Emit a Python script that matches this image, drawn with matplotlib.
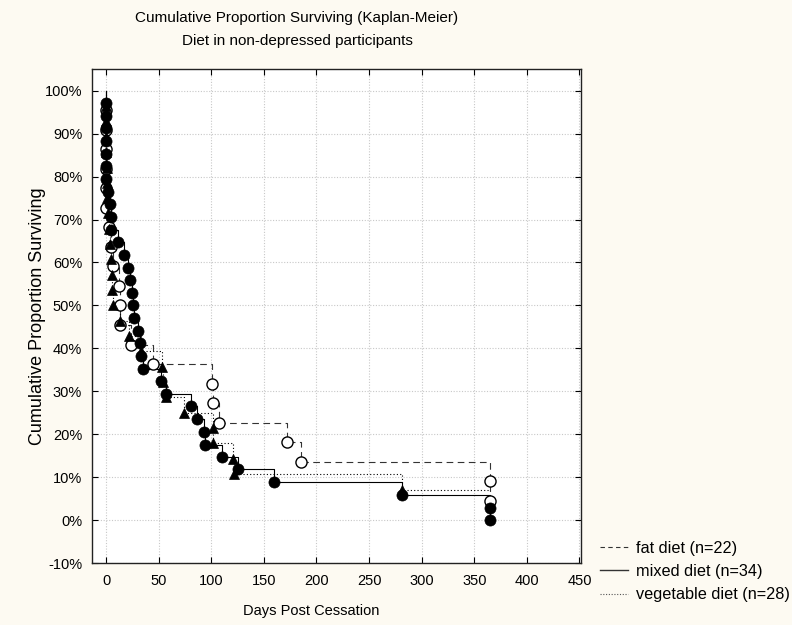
import matplotlib
matplotlib.use("Agg")
import matplotlib.pyplot as plt
from matplotlib.lines import Line2D
from matplotlib.ticker import FuncFormatter

plt.rcParams['font.family'] = ['Liberation Sans', 'DejaVu Sans']

# Kaplan-Meier steps (days, % surviving at each event)
fat_days = [0, 0, 0, 0, 0, 0, 3, 5, 6.5, 12, 13, 13, 24, 45, 100.5, 102, 107,
            172, 185, 365, 365]
fat_surv = [95.5, 90.9, 86.4, 81.8, 77.3, 72.7, 68.2, 63.6, 59.1, 54.5, 50.0,
            45.5, 40.9, 36.4, 31.8, 27.3, 22.7, 18.2, 13.6, 9.1, 4.5]
fat_end = 365

mixed_days = [0, 0, 0, 0, 0, 0, 0, 2, 4, 4.5, 5, 11, 17, 21, 22.5, 24.5, 26,
              27, 30, 32, 33, 35, 52, 57, 81, 86.5, 93.5, 94, 110.5, 125, 160,
              281, 365, 365]
mixed_surv = [97.1, 94.1, 91.2, 88.2, 85.3, 82.4, 79.4, 76.5, 73.5, 70.6, 67.6,
              64.7, 61.8, 58.8, 55.9, 52.9, 50.0, 47.1, 44.1, 41.2, 38.2, 35.3,
              32.4, 29.4, 26.5, 23.5, 20.6, 17.6, 14.7, 11.8, 8.8, 5.9, 2.9, 0.0]
mixed_end = 365

veg_days = [0, 0, 0, 0, 1, 1, 1, 2, 3, 3.5, 5, 5.5, 5.5, 6.5, 13, 22, 33, 53,
            54, 57, 74, 101.5, 102, 120.5, 122, 281]
veg_surv = [96.4, 92.9, 89.3, 85.7, 82.1, 78.6, 75.0, 71.4, 67.9, 64.3, 60.7,
            57.1, 53.6, 50.0, 46.4, 42.9, 39.3, 35.7, 32.1, 28.6, 25.0, 21.4,
            17.9, 14.3, 10.7, 7.1]
veg_end = 365

labels = ['fat diet (n=22)', 'mixed diet (n=34)', 'vegetable diet (n=28)']
x_ticks = list(range(0, 451, 50))
y_ticks = list(range(-10, 101, 10))

bg = '#fdfaf2'
fig = plt.figure(figsize=(7.92, 6.25), dpi=100, facecolor=bg)
ax = fig.add_axes([0.116, 0.099, 0.617, 0.791])
ax.set_facecolor('white')


def km_line(days, surv, end):
    xs = [0] + list(days) + [end]
    ys = [100] + list(surv) + [surv[-1]]
    return xs, ys


styles = [
    (fat_days, fat_surv, fat_end, dict(color='#333333', ls=(0, (6, 4))),
     dict(marker='o', mfc='white', mec='black', ms=8, mew=1.0)),
    (veg_days, veg_surv, veg_end, dict(color='black', ls=(0, (1, 2))),
     dict(marker='^', mfc='black', mec='black', ms=7, mew=0.5)),
    (mixed_days, mixed_surv, mixed_end, dict(color='black', ls='-'),
     dict(marker='o', mfc='black', mec='black', ms=8, mew=0.5)),
]

for days, surv, end, lstyle, mstyle in styles:
    xs, ys = km_line(days, surv, end)
    ax.step(xs, ys, where='post', lw=0.8, zorder=2, **lstyle)
for days, surv, end, lstyle, mstyle in styles:
    ax.plot(days, surv, ls='none', zorder=3, **mstyle)

ax.set_xlim(-13.5, 451)
ax.set_ylim(-10, 105.1)
ax.set_xticks(x_ticks)
ax.set_yticks(y_ticks)
ax.yaxis.set_major_formatter(FuncFormatter(lambda v, p: f"{int(round(v))}%"))
ax.tick_params(direction='in', top=True, right=True, length=4, width=0.8,
               labelsize=10.5, colors='black')
ax.tick_params(axis='x', pad=8)
ax.tick_params(axis='y', pad=7)
ax.grid(True, color='#c8c8c8', ls=(0, (1, 1.5)), lw=0.8, zorder=0)
ax.set_axisbelow(True)
for s in ax.spines.values():
    s.set_linewidth(1.0)
    s.set_color('#222222')

ax.set_ylabel('Cumulative Proportion Surviving', fontsize=13)
ax.yaxis.set_label_coords(-0.093, 0.5)
ax.set_xlabel('Days Post Cessation', fontsize=10.5)
ax.xaxis.set_label_coords(0.448, -0.083)

fig.text(0.375, 0.971, 'Cumulative Proportion Surviving (Kaplan-Meier)',
         ha='center', va='center', fontsize=11)
fig.text(0.375, 0.935, 'Diet in non-depressed participants',
         ha='center', va='center', fontsize=11)

handles = [Line2D([], [], color='#333333', lw=0.8, ls=(0, (4, 3))),
           Line2D([], [], color='#333333', lw=1.0, ls='-'),
           Line2D([], [], color='#555555', lw=0.8, ls=(0, (1, 1.5)))]
fig.legend(handles, labels, loc='upper left',
           bbox_to_anchor=(600 / 792, 1 - 541 / 625), frameon=False,
           fontsize=11.7, handlelength=1.7, handletextpad=0.5,
           labelspacing=0.5, borderpad=0, borderaxespad=0)

fig.savefig('out.png', dpi=100, facecolor=bg)
